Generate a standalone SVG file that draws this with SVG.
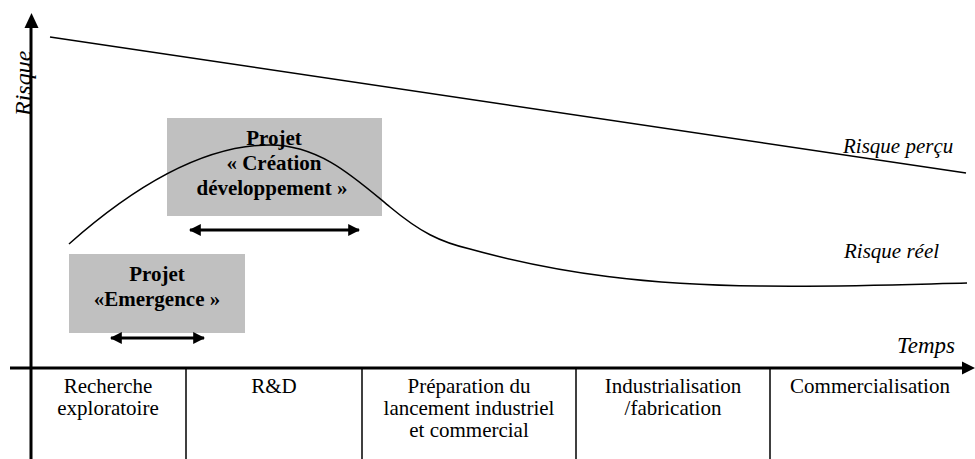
<svg xmlns="http://www.w3.org/2000/svg" width="975" height="459" viewBox="0 0 975 459">
<style>
.t{font-family:"Liberation Serif","Times New Roman",serif;fill:#000}
.cell{font-size:21px;text-anchor:middle}
.it{font-style:italic}
.b{font-weight:bold;font-size:21px;text-anchor:middle}
.box{fill:#c0c0c0}
.ax{stroke:#000;stroke-width:3;fill:none}
.sep{stroke:#000;stroke-width:1.5;fill:none}
.cur{stroke:#000;stroke-width:1.5;fill:none}
.dbl{stroke:#000;stroke-width:3;fill:none}
</style>
<defs>
<marker id="ah" viewBox="0 0 10 10" refX="9" refY="5" markerWidth="4" markerHeight="4" markerUnits="strokeWidth" orient="auto-start-reverse">
<path d="M0,0 L10,5 L0,10 z" fill="#000"/>
</marker>
</defs>
<g id="boxes">
<g id="box-creation">
<rect class="box" x="167" y="118" width="215" height="98"/>
<text class="t b" x="274" y="145">Projet</text>
<text class="t b" x="274" y="170">« Création</text>
<text class="t b" x="272" y="195">développement »</text>
</g>
<g id="box-emergence">
<rect class="box" x="69" y="254" width="176" height="79"/>
<text class="t b" x="157" y="281">Projet</text>
<text class="t b" x="157" y="306">«Emergence »</text>
</g>
</g>
<g id="connectors">
<line class="ax" x1="31" y1="459" x2="31" y2="26"/>
<path d="M24.5,28 L31.5,13 L38.5,28 z" fill="#000"/>
<line class="ax" x1="10" y1="368" x2="963" y2="368"/>
<path d="M962,361.5 L975,368 L962,374.5 z" fill="#000"/>
<line class="sep" x1="186" y1="368" x2="186" y2="459"/>
<line class="sep" x1="362" y1="368" x2="362" y2="459"/>
<line class="sep" x1="576" y1="368" x2="576" y2="459"/>
<line class="sep" x1="770" y1="368" x2="770" y2="459"/>
<line class="cur" x1="50" y1="37" x2="966" y2="173"/>
<path class="cur" d="M69,244 C130,190 200,145 270,145 C320,145 355,178 390,207 C420,232 440,242 470,249 C560,274 650,285 760,286 C850,287 920,284 967,283"/>
<line class="dbl" x1="190" y1="230" x2="359" y2="230" marker-start="url(#ah)" marker-end="url(#ah)"/>
<line class="dbl" x1="111" y1="338" x2="204" y2="338" marker-start="url(#ah)" marker-end="url(#ah)"/>
</g>
<g id="labels">
<text class="t it" font-size="24" transform="translate(31,116) rotate(-90)">Risque</text>
<text class="t it" font-size="21" x="843" y="153">Risque perçu</text>
<text class="t it" font-size="21" x="844" y="258">Risque réel</text>
<text class="t it" font-size="23" x="897" y="353">Temps</text>
</g>
<g id="table">
<text class="t cell" x="108" y="393">Recherche</text>
<text class="t cell" x="108" y="415">exploratoire</text>
<text class="t cell" x="274" y="393">R&amp;D</text>
<text class="t cell" x="469" y="393">Préparation du</text>
<text class="t cell" x="469" y="415">lancement industriel</text>
<text class="t cell" x="469" y="437">et commercial</text>
<text class="t cell" x="673" y="393">Industrialisation</text>
<text class="t cell" x="673" y="415">/fabrication</text>
<text class="t cell" x="870" y="393">Commercialisation</text>
</g>
</svg>
